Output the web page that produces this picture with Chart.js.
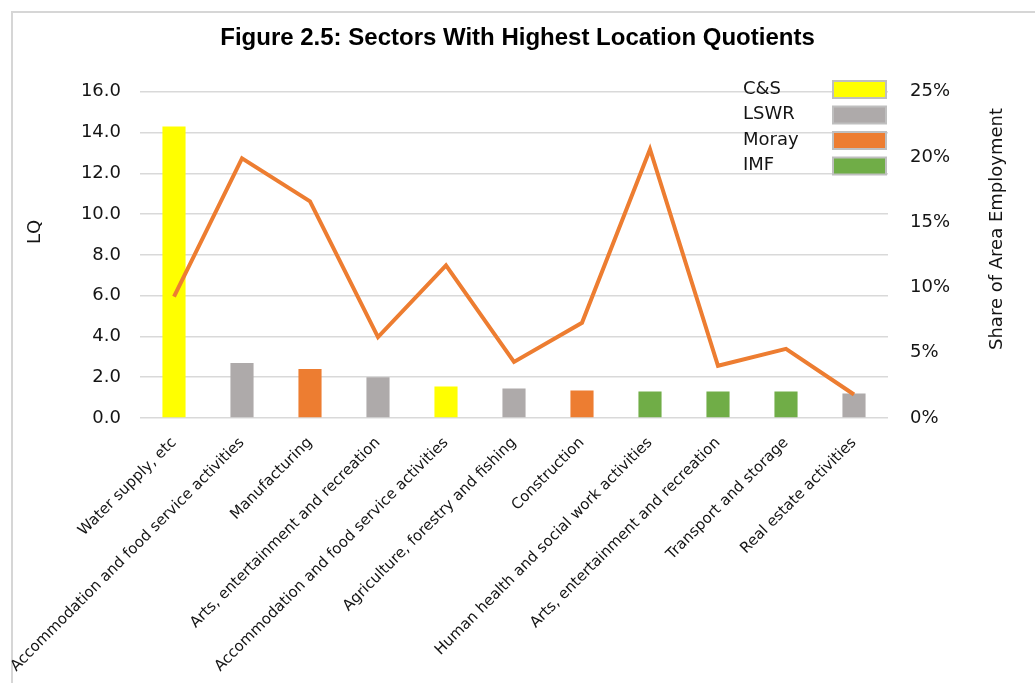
<!DOCTYPE html>
<html>
<head>
<meta charset="utf-8">
<title>Sectors With Highest Location Quotients</title>
<script src="https://cdn.jsdelivr.net/npm/chart.js@4.4.0/dist/chart.umd.min.js"></script>
<style>
  html, body { margin: 0; padding: 0; background: #fff; }
  #wrap { position: relative; width: 1035px; height: 683px; overflow: hidden; }
  #frame {
    position: absolute; left: 11px; top: 11px; width: 1100px; height: 800px;
    border-left: 2px solid #d6d6d6; border-top: 2px solid #d6d6d6;
  }
  #chart { position: absolute; left: 0; top: 0; }
</style>
</head>
<body>
<div id="wrap">
  <div id="frame"></div>
  <canvas id="chart" width="1035" height="683"></canvas>
</div>
<script>
// ==================== DATA ====================
const sectors = [
  "Water supply, etc",
  "Accommodation and food service activities",
  "Manufacturing",
  "Arts, entertainment and recreation",
  "Accommodation and food service activities",
  "Agriculture, forestry and fishing",
  "Construction",
  "Human health and social work activities",
  "Arts, entertainment and recreation",
  "Transport and storage",
  "Real estate activities"
];
const sectorArea = ["C&S", "LSWR", "Moray", "LSWR", "C&S", "LSWR", "Moray", "IMF", "IMF", "IMF", "LSWR"];
const lqValues = [14.3, 2.7, 2.4, 2.0, 1.55, 1.45, 1.35, 1.3, 1.3, 1.3, 1.2];
const shareValues = [9.3, 19.9, 16.6, 6.2, 11.7, 4.3, 7.3, 20.6, 4.0, 5.3, 1.8];

const areaNames = ["C&S", "LSWR", "Moray", "IMF"];
const areaColours = ["#FFFF00", "#AEAAAA", "#ED7D31", "#70AD47"];

const lqTicks = { min: 0, max: 16, step: 2 };
const shareTicks = { min: 0, max: 25, step: 5 };

// ==================== HELPERS ====================
const TEXT = "#141414";
const FONT = "'DejaVu Sans', sans-serif";
const colourFor = area => areaColours[areaNames.indexOf(area)];

// legend + axis titles drawn straight on the canvas
const extrasPlugin = {
  id: "extras",
  afterDraw(chart) {
    const ctx = chart.ctx;
    ctx.save();
    ctx.fillStyle = TEXT;
    ctx.font = "18px " + FONT;

    // area legend, labels left and swatches on the right
    ctx.textAlign = "left";
    ctx.textBaseline = "middle";
    areaNames.forEach((name, i) => {
      const y = 89 + i * 25.5;
      ctx.fillStyle = TEXT;
      ctx.fillText(name, 743, y);
      ctx.fillStyle = areaColours[i];
      ctx.fillRect(833, y - 8, 53, 17);
      ctx.strokeStyle = "#bfbfbf";
      ctx.lineWidth = 2;
      ctx.strokeRect(833, y - 8, 53, 17);
    });

    // axis titles
    ctx.fillStyle = TEXT;
    ctx.textAlign = "center";
    ctx.textBaseline = "middle";
    ctx.save();
    ctx.translate(35, 232);
    ctx.rotate(-Math.PI / 2);
    ctx.fillText("LQ", 0, 0);
    ctx.restore();

    ctx.save();
    ctx.translate(997, 229);
    ctx.rotate(-Math.PI / 2);
    ctx.fillText("Share of Area Employment", 0, 0);
    ctx.restore();

    ctx.restore();
  }
};

// ==================== CHART ====================
new Chart(document.getElementById("chart"), {
  data: {
    labels: sectors,
    datasets: [
      {
        type: "line",
        label: "Share of Area Employment",
        data: shareValues,
        yAxisID: "y1",
        borderColor: "#ED7D31",
        borderWidth: 4,
        pointRadius: 0,
        tension: 0,
        order: 0
      },
      {
        type: "bar",
        label: "LQ",
        data: lqValues,
        yAxisID: "y",
        backgroundColor: sectorArea.map(colourFor),
        barPercentage: 0.34,
        categoryPercentage: 1,
        order: 1
      }
    ]
  },
  options: {
    responsive: false,
    animation: false,
    layout: { padding: 0 },
    plugins: {
      legend: { display: false },
      tooltip: { enabled: false },
      title: {
        display: true,
        text: "Figure 2.5: Sectors With Highest Location Quotients",
        color: "#000",
        font: { family: "'Liberation Sans', sans-serif", size: 24, weight: "bold" },
        padding: { top: 24, bottom: 39 }
      }
    },
    scales: {
      x: {
        grid: { display: false, drawTicks: false },
        border: { display: false },
        ticks: {
          autoSkip: false,
          maxRotation: 45,
          minRotation: 45,
          padding: 16,
          color: TEXT,
          font: { family: FONT, size: 15 }
        },
        afterFit(scale) { scale.height = 265; }
      },
      y: {
        position: "left",
        min: lqTicks.min,
        max: lqTicks.max,
        grid: { color: "#d9d9d9", lineWidth: 1.5, drawTicks: false },
        border: { display: false },
        ticks: {
          stepSize: lqTicks.step,
          padding: 19,
          color: TEXT,
          font: { family: FONT, size: 18 },
          callback: v => v.toFixed(1)
        },
        afterFit(scale) { scale.width = 140; }
      },
      y1: {
        position: "right",
        min: shareTicks.min,
        max: shareTicks.max,
        grid: { display: false, drawTicks: false },
        border: { display: false },
        ticks: {
          stepSize: shareTicks.step,
          padding: 22,
          color: TEXT,
          font: { family: FONT, size: 18 },
          callback: v => v + "%"
        },
        afterFit(scale) { scale.width = 147; }
      }
    }
  },
  plugins: [extrasPlugin]
});
</script>
</body>
</html>
